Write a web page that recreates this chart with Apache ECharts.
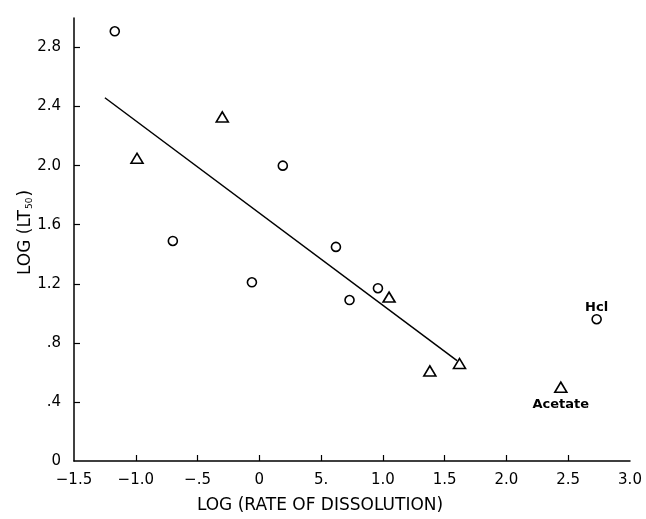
<!DOCTYPE html>
<html>
<head>
<meta charset="utf-8">
<script src="https://cdn.jsdelivr.net/npm/echarts@6/dist/echarts.min.js"></script>
<style>
  html, body { margin: 0; padding: 0; background: #fff; }
  #chart { width: 646px; height: 519px; }
</style>
</head>
<body>
<div id="chart"></div>
<script>
// Circle series: log(rate of dissolution) vs log(LT50)
const circleX = [-1.17, -0.70, -0.06, 0.19, 0.62, 0.73, 0.96, 2.73];
const circleY = [2.91, 1.49, 1.21, 2.00, 1.45, 1.09, 1.17, 0.96];
const circleNames = ['', '', '', '', '', '', '', 'Hcl'];

// Triangle series
const triX = [-0.99, -0.30, 1.05, 1.38, 1.62, 2.44];
const triY = [2.05, 2.33, 1.11, 0.61, 0.66, 0.50];
const triNames = ['', '', '', '', '', 'Acetate'];

// Regression line end points
const fitX = [-1.25, 1.60];
const fitY = [2.46, 0.68];

// Axis ticks and their printed labels
const xTickValues = [-1.5, -1.0, -0.5, 0, 0.5, 1.0, 1.5, 2.0, 2.5, 3.0];
const xTickLabels = ['\u22121.5', '\u22121.0', '\u2212.5', '0', '5.', '1.0', '1.5', '2.0', '2.5', '3.0'];
const yTickValues = [0, 0.4, 0.8, 1.2, 1.6, 2.0, 2.4, 2.8];
const yTickLabels = ['0', '.4', '.8', '1.2', '1.6', '2.0', '2.4', '2.8'];

const FONT = 'DejaVu Sans';

function pairs(xs, ys, names) {
  return xs.map((x, i) => ({ name: names ? names[i] : '', value: [x, ys[i]] }));
}
function labelFor(values, labels) {
  return v => {
    const i = values.findIndex(t => Math.abs(t - v) < 1e-6);
    return i >= 0 ? labels[i] : '';
  };
}

const chart = echarts.init(document.getElementById('chart'), null, { renderer: 'canvas' });
chart.setOption({
  animation: false,
  backgroundColor: '#fff',
  grid: { left: 74, right: 16, top: 18, bottom: 55, containLabel: false },
  xAxis: {
    type: 'value', min: -1.5, max: 3.0, interval: 0.5,
    name: 'LOG (RATE OF DISSOLUTION)', nameLocation: 'middle', nameGap: 36,
    nameMoveOverlap: false,
    nameTextStyle: { fontFamily: FONT, fontSize: 17, color: '#000', padding: [0, 64, 0, 0] },
    axisLine: { show: true, onZero: false, lineStyle: { color: '#000', width: 1.5 } },
    axisTick: { show: true, inside: true, length: 6, customValues: xTickValues.slice(1, -1), lineStyle: { color: '#000', width: 1.2 } },
    axisLabel: { customValues: xTickValues, formatter: labelFor(xTickValues, xTickLabels), margin: 12, fontFamily: FONT, fontSize: 15, color: '#000' },
    splitLine: { show: false }
  },
  yAxis: {
    type: 'value', min: 0, max: 3.0, interval: 0.4,
    name: 'LOG (LT{sub|50})', nameLocation: 'middle', nameGap: 40, nameRotate: 90,
    nameMoveOverlap: false,
    nameTextStyle: {
      fontFamily: FONT, fontSize: 17, color: '#000', padding: [0, 0, 0, 14],
      rich: { sub: { fontFamily: FONT, fontSize: 9, color: '#000', verticalAlign: 'bottom', padding: [7, 1, 0, 1] } }
    },
    axisLine: { show: true, onZero: false, lineStyle: { color: '#000', width: 1.5 } },
    axisTick: { show: true, inside: true, length: 6, customValues: yTickValues.slice(1), lineStyle: { color: '#000', width: 1.2 } },
    axisLabel: { customValues: yTickValues, formatter: labelFor(yTickValues, yTickLabels), margin: 13, fontFamily: FONT, fontSize: 15, color: '#000' },
    splitLine: { show: false }
  },
  series: [
    {
      type: 'line',
      data: pairs(fitX, fitY),
      showSymbol: false,
      symbol: 'none',
      lineStyle: { color: '#000', width: 1.5 },
      silent: true
    },
    {
      type: 'scatter',
      data: pairs(circleX, circleY, circleNames),
      symbol: 'circle',
      symbolSize: 9,
      itemStyle: { color: '#fff', borderColor: '#000', borderWidth: 1.6, opacity: 1 },
      label: {
        show: true, position: 'top', distance: 0,
        formatter: p => p.name,
        fontFamily: FONT, fontSize: 13, fontWeight: 'bold', color: '#000'
      }
    },
    {
      type: 'scatter',
      data: pairs(triX, triY, triNames),
      symbol: 'triangle',
      symbolSize: [12, 10],
      itemStyle: { color: '#fff', borderColor: '#000', borderWidth: 1.6, opacity: 1 },
      label: {
        show: true, position: 'bottom', distance: 5,
        formatter: p => p.name,
        fontFamily: FONT, fontSize: 13, fontWeight: 'bold', color: '#000'
      }
    }
  ]
});
</script>
</body>
</html>
